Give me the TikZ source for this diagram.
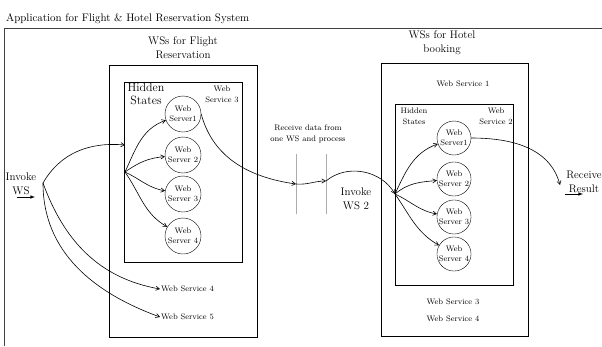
\documentclass[tikz,border=0pt]{standalone}
\usepackage{tikz}
\usetikzlibrary{arrows}

\begin{document}
\begin{tikzpicture}[x=1pt,y=-1pt,>=angle 60]
        \tikzset{server/.style = {shape=circle,draw,minimum size=36pt,inner sep=0pt,align=center,font=\fontsize{8}{10}\selectfont}}
        \tikzset{small/.style = {align=center,font=\fontsize{8}{11}\selectfont}}
        \tikzset{big/.style = {align=center,font=\fontsize{11}{14}\selectfont}}
        \tikzset{link/.style = {->,semithick}}
        \tikzset{box/.style = {draw,semithick}}
        \tikzset{bar/.style = {draw=gray,thick,minimum height=60pt,minimum width=0pt,inner sep=0pt}}
        \useasboundingbox (0,0) rectangle (602,346);
        % frames
        \draw[thick,black!75] (4,346) -- (4,28) -- (602,28);
        \draw[box] (109,65) rectangle (257,337);
        \draw[box] (124,82) rectangle (242,262);
        \draw[box] (381,63) rectangle (528,336);
        \draw[box] (395,104) rectangle (513,285);
        % labels
        \node[anchor=west,font=\fontsize{10.9}{12}\selectfont,inner sep=0pt] (title) at (6,19) {Application for Flight \& Hotel Reservation System};
        \node[big] (flight) at (183,48) {WSs for Flight\\Reservation};
        \node[big] (hotel) at (442,43) {WSs for Hotel\\booking};
        \node[big,font=\fontsize{12}{13}\selectfont] (fhidden) at (146,94) {Hidden\\States};
        \node[small] (fws3) at (222,94) {Web\\Service 3};
        \node[small] (hhidden) at (414,116) {Hidden\\States};
        \node[small] (hws2) at (496,116) {Web\\Service 2};
        \node[small] (hws1) at (463,84) {Web Service 1};
        \node[small] (hws3) at (453,302) {Web Service 3};
        \node[small] (hws4) at (453,319) {Web Service 4};
        \node[small,anchor=west,inner sep=1pt] (fws4) at (160,289) {Web Service 4};
        \node[small,anchor=west,inner sep=1pt] (fws5) at (160,317) {Web Service 5};
        \node[small] (recv) at (308,134) {Receive data from\\one WS and process};
        \node[big] (invoke) at (21,184) {Invoke\\WS};
        \node[big] (invoke2) at (356,199) {Invoke\\WS 2};
        \node[big] (result) at (584,182) {Receive\\Result};
        % servers
        \node[server] (fs1) at (183,114) {Web\\Server1};
        \node[server] (fs2) at (183,155) {Web\\Server 2};
        \node[server] (fs3) at (183,194) {Web\\Server 3};
        \node[server] (fs4) at (183,236) {Web\\Server 4};
        \node[server,minimum size=34pt] (hs1) at (454,138) {Web\\Server1};
        \node[server,minimum size=34pt] (hs2) at (454,179) {Web\\Server 2};
        \node[server,minimum size=34pt] (hs3) at (454,217) {Web\\Server 3};
        \node[server,minimum size=34pt] (hs4) at (454,254) {Web\\Server 4};
        \node[bar] (bar1) at (296,184) {};
        \node[bar] (bar2) at (326,184) {};
        \coordinate (inv) at (43,183);
        \coordinate (fin) at (125,145);
        \coordinate (fhub) at (125,172);
        \coordinate (hhub) at (395,194);
        \coordinate (ws0) at (17,197);
        \coordinate (ws1) at (35,197);
        \coordinate (res0) at (565,194);
        \coordinate (res1) at (583,194);
        \coordinate (resin) at (560,185);
        % edges
        \draw[-latex,semithick] (ws0) to (ws1);
        \draw[link] (inv) to[out=60,in=175] (fin);
        \draw[link] (inv) to[out=-70,in=170] (fws4.west);
        \draw[link] (inv) to[out=-90,in=160] (fws5.west);
        \draw[link] (fhub) to[out=65,in=200] (fs1);
        \draw[link] (fhub) to[out=35,in=185] (fs2);
        \draw[link] (fhub) to[out=-25,in=170] (fs3);
        \draw[link] (fhub) to[out=-55,in=150] (fs4);
        \draw[link] (fs1.east) to[out=-75,in=172] (bar1.center);
        \draw[link] (bar1.center) to[out=-5,in=180] ([yshift=3pt]bar2.center);
        \draw[link] ([yshift=3pt]bar2.center) to[out=40,in=120] (hhub);
        \draw[link] (hhub) to[out=65,in=200] (hs1);
        \draw[link] (hhub) to[out=40,in=185] (hs2);
        \draw[link] (hhub) to[out=-25,in=170] (hs3);
        \draw[link] (hhub) to[out=-55,in=150] (hs4);
        \draw[link] (hs1.east) to[out=0,in=105] (resin);
        \draw[-latex,semithick] (res0) to (res1);
\end{tikzpicture}
\end{document}
